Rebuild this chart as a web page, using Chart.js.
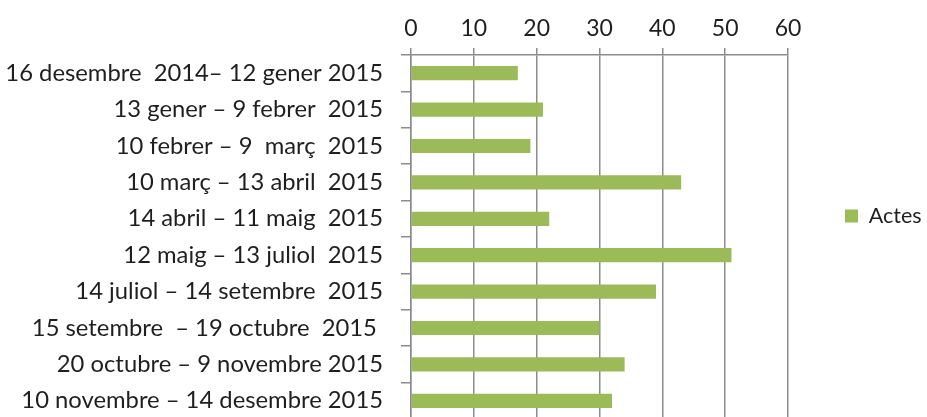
<!DOCTYPE html>
<html>
<head>
<meta charset="utf-8">
<script src="https://cdn.jsdelivr.net/npm/chart.js@4.4.1/dist/chart.umd.min.js"></script>
<style>
  html, body { margin: 0; padding: 0; background: #fff; overflow: hidden; }
  #wrap { width: 927px; height: 422px; position: relative; }
</style>
</head>
<body>
<div id="wrap"><canvas id="c" width="927" height="422"></canvas></div>
<script>
const categories = [
  "16 desembre  2014\u2013 12 gener 2015",
  "13 gener \u2013 9 febrer  2015",
  "10 febrer \u2013 9  mar\u00e7  2015",
  "10 mar\u00e7 \u2013 13 abril  2015",
  "14 abril \u2013 11 maig  2015",
  "12 maig \u2013 13 juliol  2015",
  "14 juliol \u2013 14 setembre  2015",
  "15 setembre  \u2013 19 octubre  2015 ",
  "20 octubre \u2013 9 novembre 2015",
  "10 novembre \u2013 14 desembre 2015"
];
const actes = [17, 21, 19, 43, 22, 51, 39, 30, 34, 32];
const seriesName = "Actes";
const xMin = 0, xMax = 60, xStep = 10;

const FONT = "Lato, 'Open Sans', sans-serif";
const gridColor = "#8c8c8c";
const textColor = "#1f1f1f";

const legendPlace = {
  id: 'legendPlace',
  beforeLayout(chart) {
    const lg = chart.legend;
    if (lg && !lg._wrapped) {
      const orig = lg.fit;
      lg.fit = function () { orig.call(this); this.width = 139; };
      lg._wrapped = true;
    }
  },
  afterLayout(chart) {
    const lg = chart.legend;
    if (!lg) return;
    const h = lg.columnSizes && lg.columnSizes[0] ? lg.columnSizes[0].height : 26;
    lg.left = 835; lg.right = 927;
    lg.top = 221 - h / 2 - 10; lg.bottom = 221 + h / 2;
  }
};

new Chart(document.getElementById('c'), {
  type: 'bar',
  data: {
    labels: categories,
    datasets: [{
      label: seriesName,
      data: actes,
      backgroundColor: '#9BBB59',
      borderWidth: 0,
      barPercentage: 0.39,
      categoryPercentage: 1.0
    }]
  },
  plugins: [legendPlace],
  options: {
    indexAxis: 'y',
    responsive: false,
    animation: false,
    layout: { padding: { left: 0, right: 0, top: 0, bottom: 3 } },
    plugins: {
      legend: {
        position: 'right',
        labels: {
          boxWidth: 13, boxHeight: 13,
          color: textColor,
          font: { family: FONT, size: 21.5 },
          padding: 10
        }
      },
      tooltip: { enabled: false }
    },
    scales: {
      x: {
        position: 'top',
        min: xMin, max: xMax,
        ticks: { stepSize: xStep, color: textColor, font: { family: FONT, size: 23 }, padding: 6 },
        grid: { color: gridColor, lineWidth: 1.5, tickLength: 7, drawTicks: true },
        border: { display: true, color: gridColor, width: 1.5 },
        afterFit: (s) => { s.height = 55; }
      },
      y: {
        ticks: { color: textColor, font: { family: FONT, size: 23.8 }, padding: 18, autoSkip: false },
        grid: { offset: true, drawOnChartArea: false, color: gridColor, lineWidth: 1.5, tickLength: 10 },
        border: { display: true, color: gridColor, width: 1.5 },
        afterFit: (s) => { s.width = 411; s.paddingTop = 0; s.paddingBottom = 0; }
      }
    }
  }
});
</script>
</body>
</html>
